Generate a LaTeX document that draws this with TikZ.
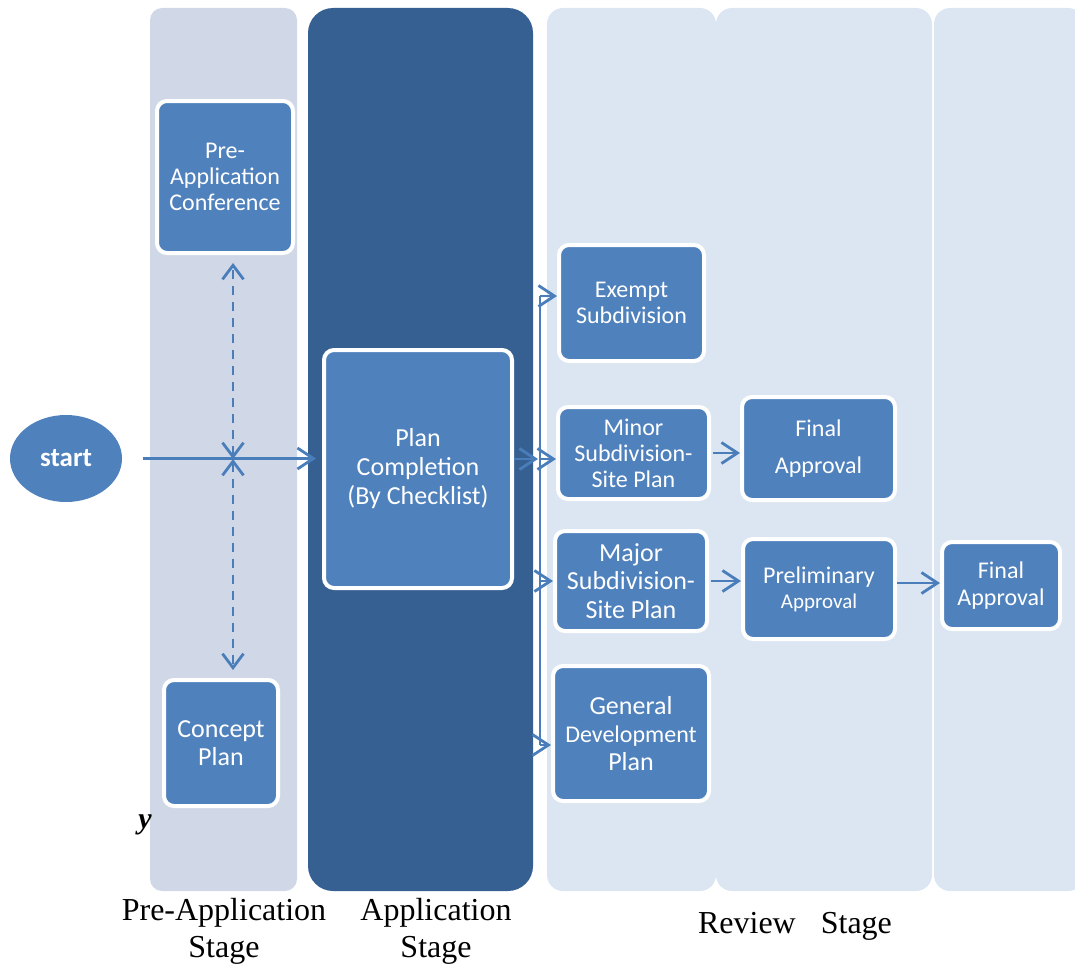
\documentclass[tikz,border=0pt]{standalone}
\usepackage{fontspec}
\setmainfont{Liberation Serif}
\newfontfamily\calib{Carlito}
\usetikzlibrary{arrows.meta,shapes.geometric,calc}
\definecolor{prelane}{HTML}{D0D8E8}
\definecolor{applane}{HTML}{376092}
\definecolor{revlane}{HTML}{DCE6F2}
\definecolor{boxblue}{HTML}{4F81BD}
\definecolor{arrblue}{HTML}{4A7EBB}
\tikzset{
  box/.style={rectangle, rounded corners=10pt, fill=boxblue, draw=white, line width=4pt,
    text=white, align=center, inner sep=0pt, font=\calib\fontsize{24}{26}\selectfont},
  conn/.style={draw=arrblue, line width=2.8pt, -{Straight Barb[length=16pt,width=21pt]}},
  dconn/.style={draw=arrblue, line width=2.8pt, dash pattern=on 9pt off 7pt,
    {Straight Barb[length=14pt,width=21pt]}-{Straight Barb[length=14pt,width=21pt]}},
  vline/.style={draw=arrblue, line width=2.8pt},
  stagelabel/.style={align=center, inner sep=0pt, font=\fontsize{32}{37}\selectfont}
}
\begin{document}
\begin{tikzpicture}[x=1pt,y=-1pt]
\useasboundingbox (0,0) rectangle (1075,966);
\begin{scope}
\clip (0,0) rectangle (1075,966);
% lanes
\fill[prelane, rounded corners=12pt] (150,8) rectangle (297,891);
\fill[applane, rounded corners=25pt] (308,8) rectangle (533,891);
\fill[revlane, rounded corners=16pt] (547,8) rectangle (716,891);
\fill[revlane, rounded corners=16pt] (716,8) rectangle (932,891);
\fill[revlane, rounded corners=16pt] (934,8) rectangle (1084,891);
\end{scope}

% start
\node[ellipse, fill=boxblue, minimum width=112pt, minimum height=87pt, inner sep=0pt,
  text=white, font=\calib\bfseries\fontsize{27}{30}\selectfont] (st) at (66,458.5) {start};

% boxes
\node[box, minimum width=136pt, minimum height=152pt] (pac) at (225,177) {Pre-\\Application\\Conference};
\node[box, minimum width=114pt, minimum height=126pt, font=\calib\fontsize{26}{28}\selectfont] (cp) at (221,743) {Concept\\Plan};
\node[box, minimum width=188pt, minimum height=238pt, font=\calib\fontsize{26}{29}\selectfont] (pc) at (418,469) {Plan\\Completion\\(By Checklist)};
\node[box, minimum width=145pt, minimum height=116pt] (ex) at (631.5,303) {Exempt\\Subdivision};
\node[box, minimum width=151pt, minimum height=92pt] (mi) at (633.5,453) {Minor\\Subdivision-\\Site Plan};
\node[box, minimum width=153pt, minimum height=103pt, font=\calib\fontsize{24}{37}\selectfont] (fa1) at (818.5,448.5) {Final\\Approval};
\node[box, minimum width=152pt, minimum height=100pt, font=\calib\fontsize{26}{28.5}\selectfont] (ma) at (631,581) {Major\\Subdivision-\\Site Plan};
\node[box, minimum width=152pt, minimum height=100pt, font=\calib\fontsize{24}{25}\selectfont] (pa) at (819,589) {Preliminary\\{\fontsize{21}{25}\selectfont Approval}};
\node[box, minimum width=118pt, minimum height=87pt, font=\calib\fontsize{24}{27}\selectfont] (fa2) at (1001,585.5) {Final\\Approval};
\node[box, minimum width=156pt, minimum height=135pt, font=\calib\fontsize{26}{28}\selectfont] (gd) at (631,733.5) {General\\{\fontsize{24}{28}\selectfont Development}\\Plan};

% connectors
\coordinate (cross) at (233,459);
\draw[conn, shorten <=21pt, shorten >=6pt] (st.east) -- (st.east -| pc.west);
\draw[dconn, shorten >=8pt] (cross) -- (cross |- pac.south);
\draw[dconn, shorten >=8pt] (cross) -- (cross |- cp.north);

\coordinate (b1) at (540,296);
\coordinate (b2) at (540,459);
\coordinate (b3) at (540,581);
\coordinate (b4) at (540,745);
\draw[conn, shorten >=2pt] (pc.east |- b2) -- (b2);
\draw[vline] (b1) -- (b4);
\draw[conn] (b1) -- (b1 -| ex.west);
\draw[conn] (b2) -- (b2 -| mi.west);
\draw[conn] (b3) -- (b3 -| ma.west);
\draw[conn] (b4) -- (b4 -| gd.west);
\draw[conn, shorten <=2pt] (mi.east) -- (mi.east -| fa1.west);
\draw[conn, shorten <=2pt] (ma.east) -- (ma.east -| pa.west);
\draw[conn] ([yshift=6pt]pa.east) -- ([yshift=6pt]pa.east -| fa2.west);

% labels
\node[stagelabel] (lpre) at (224,931) {Pre-Application\\Stage};
\node[stagelabel] (lapp) at (436,931) {Application\\Stage};
\node[stagelabel] (lrev) at (795,926) {Review\hspace{25pt}Stage};
\node[font=\bfseries\itshape\fontsize{30}{32}\selectfont, inner sep=0pt] (ly) at (145,825) {y};
\end{tikzpicture}
\end{document}
